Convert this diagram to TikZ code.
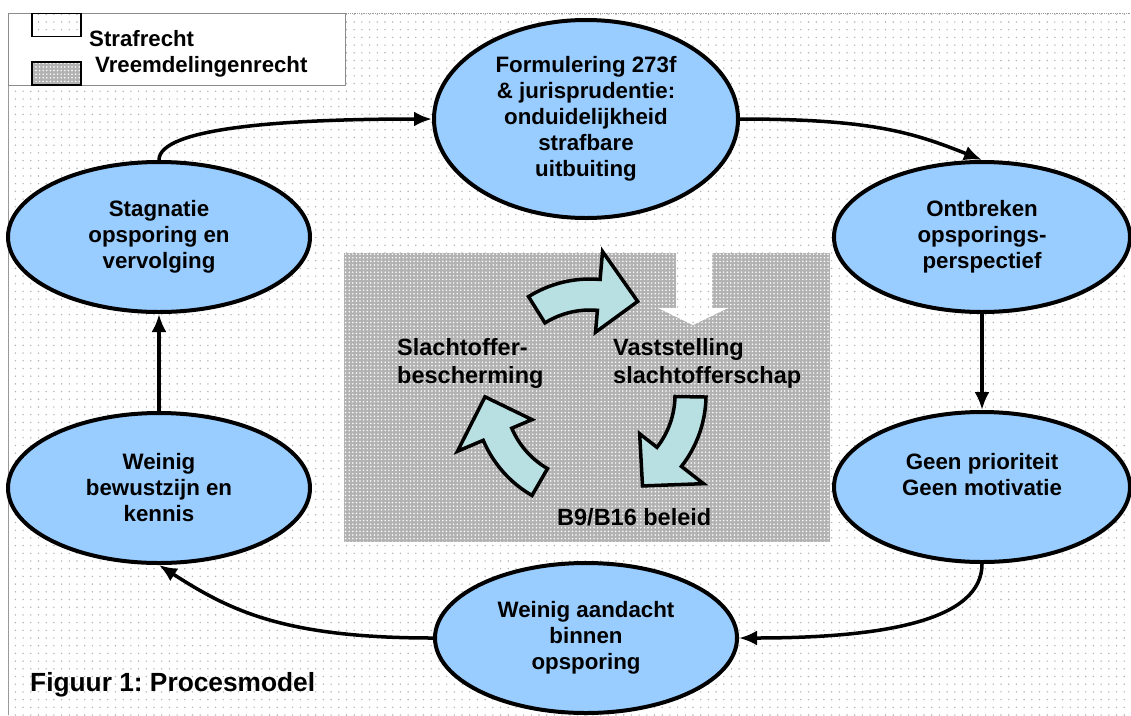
\documentclass[tikz,border=0pt]{standalone}
\usepackage{fontspec}
\setmainfont{Liberation Sans}
\usetikzlibrary{shapes.geometric,arrows.meta,patterns.meta}

\definecolor{procesblauw}{RGB}{153,204,255}
\definecolor{pijlcyaan}{RGB}{184,224,226}

\begin{document}
\frenchspacing
\begin{tikzpicture}[
x=1pt,
y=-1pt,
proces/.style={
  ellipse,
  draw,
  line width=4pt,
  fill=procesblauw,
  inner sep=0pt,
  align=center,
  font=\bfseries\fontsize{22.3}{26}\selectfont
  },
kader/.style={
  inner sep=0pt,
  align=left,
  font=\bfseries\fontsize{23.5}{28}\selectfont
  },
legenda/.style={
  inner sep=0pt,
  anchor=base west,
  font=\bfseries\fontsize{22.2}{26}\selectfont
  },
vlak/.style={
  draw,
  line width=1.6pt,
  minimum width=49pt,
  minimum height=23pt,
  inner sep=0pt
  },
stippel/.style={
  preaction={fill=white},
  pattern={Dots[distance=7.7pt,radius=0.8pt]},
  pattern color=black!30
  },
vreemd/.style={
  preaction={fill=black!30},
  pattern={Dots[distance=3.6pt,radius=0.85pt]},
  pattern color=white
  },
verbind/.style={
  line width=3.5pt,
  -{Latex[length=18pt,width=15pt]}
  },
boog/.style={
  draw,
  line width=3.5pt,
  line join=miter,
  fill=pijlcyaan
  }
]
\useasboundingbox (0,0) rectangle (1131,715);
\fill[white] (0,0) rectangle (1131,715);
% achtergrond
\path[stippel] (8,13) rectangle (1131,715);
\draw[black!40, densely dotted, line width=0.8pt] (8,13) -- (1131,13);
\draw[black!40, line width=0.8pt] (8,13) -- (8,715);

% legenda
\draw[black!45, line width=1pt, fill=white] (8,13) rectangle (345,85);
\node[vlak, stippel] (vlakstraf) at (56.5,25) {};
\node[vlak, vreemd] (vlakvreemd) at (56.5,73.5) {};
\node[legenda] (lblstraf) at (89,46) {Strafrecht};
\node[legenda] (lblvreemd) at (95,72) {Vreemdelingenrecht};

% vreemdelingenrecht
\path[vreemd] (344,253) rectangle (830,542);
\path[stippel] (676,253) -- (712,253) -- (712,308) -- (728,308) -- (693,325) -- (658,308) -- (676,308) -- cycle;
\begin{scope}[shift={(590,395)}, y=1pt]
\foreach \rot in {0,-123,-242}
  \draw[boog, rotate=\rot] (122:116pt) arc[start angle=122, end angle=85, radius=116pt]
    -- (85:144pt) -- (63:105pt) -- (85:63pt) -- (85:85pt)
    arc[start angle=85, end angle=122, radius=85pt] -- cycle;
\end{scope}
\node[kader, anchor=west] (lblbescherming) at (397,363) {Slachtoffer-\\bescherming};
\node[kader, anchor=west] (lblvaststelling) at (613,363) {Vaststelling\\slachtofferschap};
\node[kader, anchor=base west] (lblbeleid) at (557,525) {B9/B16 beleid};

% strafrecht
\node[proces, minimum width=304pt, minimum height=198pt] (formulering) at (586,119)
  {Formulering 273f\\\& jurisprudentie:\\onduidelijkheid\\strafbare\\uitbuiting};
\node[proces, minimum width=296pt, minimum height=150pt] (ontbreken) at (982,237)
  {Ontbreken\\opsporings-\\perspectief};
\node[proces, minimum width=296pt, minimum height=150pt] (prioriteit) at (982,487)
  {Geen prioriteit\\Geen motivatie\\\mbox{}};
\node[proces, minimum width=302pt, minimum height=150pt] (aandacht) at (586,638)
  {Weinig aandacht\\binnen\\opsporing};
\node[proces, minimum width=302pt, minimum height=150pt] (bewustzijn) at (159,488)
  {Weinig\\bewustzijn en\\kennis};
\node[proces, minimum width=302pt, minimum height=150pt] (stagnatie) at (159,237)
  {Stagnatie\\opsporing en\\vervolging};

\draw[verbind] (stagnatie.north) .. controls +(0,-32) and +(-150,0) .. (formulering.west);
\draw[verbind] (formulering.east) .. controls +(130,0) and +(-70,-28) .. (ontbreken.north);
\draw[verbind] (prioriteit.south) .. controls +(0,55) and +(150,0) .. (aandacht.east);
\draw[verbind] (aandacht.west) .. controls +(-150,0) and +(70,45) .. (bewustzijn.south);
\foreach \van/\naar in {bewustzijn/stagnatie,ontbreken/prioriteit}
  \draw[verbind] (\van) -- (\naar);

\node[anchor=base west, inner sep=0pt, font=\bfseries\fontsize{26.3}{30}\selectfont] (bijschrift) at (30,691)
  {Figuur 1: Procesmodel};
\end{tikzpicture}
\end{document}
